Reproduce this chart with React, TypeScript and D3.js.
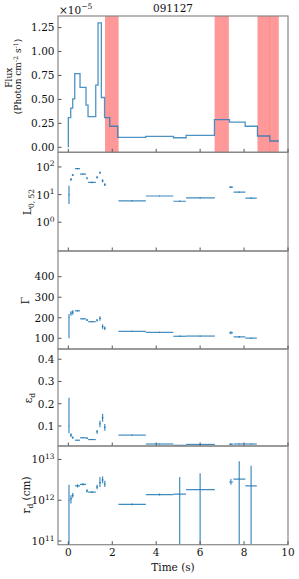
import React, { useRef, useEffect } from "react";
import * as d3 from "d3";

// flux light curve, step edges (s) and values (x1e-5 photon cm^-2 s^-1)
const fluxEdges = [
  0, 0.109, 0.2, 0.292, 0.533, 0.806, 0.897, 1.248, 1.353, 1.503, 1.649, 1.886,
  2.251, 3.526, 4.784, 5.362, 6.652, 7.335, 8.05, 8.61, 9.175, 9.585,
];
const fluxValues = [
  0.31, 0.41, 0.506, 0.77, 0.625, 0.44, 0.32, 0.65, 1.3, 0.52, 0.31, 0.22,
  0.104, 0.115, 0.1, 0.125, 0.29, 0.264, 0.22, 0.118, 0.066,
];

// shaded intervals (s)
const bandStart = [1.67, 1.89, 6.66, 8.61, 9.17];
const bandEnd = [1.895, 2.29, 7.31, 9.18, 9.58];

// time bins of the fitted parameters
const tMid = [0.03, 0.12, 0.2, 0.42, 0.67, 0.85, 1.07, 1.31, 1.44, 1.56, 1.66, 2.89, 4.15, 5.07, 6.0, 7.4, 7.78, 8.32];
const tLo = [0.01, 0.08, 0.16, 0.3, 0.53, 0.81, 0.9, 1.27, 1.4, 1.52, 1.62, 2.28, 3.53, 4.78, 5.36, 7.32, 7.52, 8.06];
const tHi = [0.05, 0.16, 0.24, 0.53, 0.81, 0.89, 1.25, 1.35, 1.48, 1.6, 1.7, 3.53, 4.78, 5.36, 6.67, 7.5, 8.06, 8.58];

// L_{0,52}
const lumVal = [10, 35.5, 51, 87, 55, 39, 27.5, 41.7, 61.7, 31.6, 23, 5.9, 8.9, 5.75, 7.6, 18.6, 12.3, 7.4];
const lumLo = [4.6, 32, 47, 83, 52, 36, 26, 38, 56, 28, 20.5, 5.6, 8.5, 5.4, 7.2, 17.3, 11.6, 7.0];
const lumHi = [21, 39, 56, 91, 58, 42, 29, 46, 68, 36, 26, 6.2, 9.3, 6.1, 8.0, 20, 13, 7.8];

// Gamma
const gamVal = [200, 222, 227, 234, 195, 189, 181, 188, 197, 157, 149, 134, 129, 110, 111, 127, 107, 101];
const gamLo = [100, 210, 215, 230, 192, 184, 178, 182, 186, 146, 140, 131, 126, 106, 108, 120, 103, 98];
const gamHi = [218, 232, 237, 238, 198, 194, 184, 194, 208, 168, 158, 137, 132, 114, 114, 134, 111, 104];

// epsilon_d
const epsVal = [0.1, 0.059, 0.048, 0.036, 0.047, 0.045, 0.039, 0.074, 0.11, 0.137, 0.094, 0.059, 0.019, 0.013, 0.017, 0.018, 0.019, 0.019];
const epsLo = [0.067, 0.051, 0.043, 0.034, 0.045, 0.042, 0.037, 0.065, 0.094, 0.119, 0.079, 0.056, 0.017, 0.011, 0.015, 0.015, 0.017, 0.017];
const epsHi = [0.227, 0.067, 0.053, 0.038, 0.049, 0.048, 0.041, 0.082, 0.124, 0.154, 0.109, 0.062, 0.021, 0.015, 0.019, 0.022, 0.021, 0.021];

// r_d (cm)
const rVal = [1e12, 1.1e12, 1.32e12, 2.24e12, 2.45e12, 1.7e12, 1.58e12, 2.1e12, 2.7e12, 3.16e12, 2.5e12, 7.9e11, 1.38e12, 1.41e12, 1.82e12, 2.8e12, 3.3e12, 2.24e12];
const rLo = [1e10, 8.3e11, 1.15e12, 2.05e12, 2.3e12, 1.55e12, 1.5e12, 1.85e12, 2.1e12, 2.6e12, 2.1e12, 7.5e11, 1.3e12, 1e10, 1e10, 2.4e12, 1e10, 1e10];
const rHi = [2.4e12, 1.32e12, 1.5e12, 2.45e12, 2.6e12, 1.85e12, 1.67e12, 2.4e12, 3.7e12, 3.8e12, 3.0e12, 8.3e11, 1.46e12, 3.7e12, 4.6e12, 3.3e12, 9e12, 7e12];

const xTicks = [0, 2, 4, 6, 8, 10];

const App: React.FC = () => {
  const ref = useRef<SVGSVGElement>(null);

  useEffect(() => {
    const svg = d3.select(ref.current);
    svg.selectAll("*").remove();
    const font = "DejaVu Serif";
    const blue = "#1f77b4";
    const left = 58,
      right = 288;
    const tops = [16, 152.3, 251, 349, 446];
    const bottoms = [152.3, 251, 349, 446, 544.7];

    const x = d3.scaleLinear().domain([-0.47, 10]).range([left, right]);

    const yFlux = d3.scaleLinear().domain([-0.052, 1.371]).range([bottoms[0], tops[0]]);
    const yLum = d3.scaleLog().domain([Math.pow(10, -1.04), Math.pow(10, 2.53)]).range([bottoms[1], tops[1]]);
    const yGam = d3.scaleLinear().domain([48, 525]).range([bottoms[2], tops[2]]);
    const yEps = d3.scaleLinear().domain([0.01, 0.446]).range([bottoms[3], tops[3]]);
    const yR = d3.scaleLog().domain([Math.pow(10, 10.91), Math.pow(10, 13.33)]).range([bottoms[4], tops[4]]);

    // clip paths
    const defs = svg.append("defs");
    tops.forEach((t, i) => {
      defs
        .append("clipPath")
        .attr("id", `clip${i}`)
        .append("rect")
        .attr("x", left)
        .attr("y", t)
        .attr("width", right - left)
        .attr("height", bottoms[i] - t);
    });

    const supText = (
      g: d3.Selection<any, unknown, null, undefined>,
      tx: number,
      ty: number,
      base: string,
      sup: string,
      anchor: string
    ) => {
      const t = g
        .append("text")
        .attr("x", tx)
        .attr("y", ty)
        .attr("text-anchor", anchor)
        .attr("font-family", font)
        .attr("font-size", 10.5)
        .attr("fill", "#111");
      t.append("tspan").text(base);
      t.append("tspan").attr("dy", -4.5).attr("font-size", 7.5).text(sup);
      return t;
    };

    // ---- panel 1: flux ----
    const g1 = svg.append("g").attr("clip-path", "url(#clip0)");
    bandStart.forEach((b, i) => {
      g1.append("rect")
        .attr("x", x(b))
        .attr("y", tops[0])
        .attr("width", x(bandEnd[i]) - x(b))
        .attr("height", bottoms[0] - tops[0])
        .attr("fill", "red")
        .attr("fill-opacity", 0.4);
    });
    const stepPts: [number, number][] = [[fluxEdges[0], 0]];
    fluxValues.forEach((v, i) => {
      stepPts.push([fluxEdges[i], v]);
      stepPts.push([fluxEdges[i + 1], v]);
    });
    const line = d3
      .line<[number, number]>()
      .x((d) => x(d[0]))
      .y((d) => yFlux(d[1]));
    g1.append("path")
      .attr("d", line(stepPts) || "")
      .attr("fill", "none")
      .attr("stroke", blue)
      .attr("stroke-opacity", 0.8)
      .attr("stroke-width", 1.3);

    // ---- error bar panels ----
    const errPanel = (
      idx: number,
      y: d3.ScaleContinuousNumeric<number, number>,
      val: number[],
      lo: number[],
      hi: number[]
    ) => {
      const g = svg.append("g").attr("clip-path", `url(#clip${idx})`);
      val.forEach((v, i) => {
        g.append("line")
          .attr("x1", x(tLo[i]))
          .attr("x2", x(tHi[i]))
          .attr("y1", y(v))
          .attr("y2", y(v))
          .attr("stroke", blue)
          .attr("stroke-opacity", 0.85)
          .attr("stroke-width", 1.2);
        g.append("line")
          .attr("x1", x(tMid[i]))
          .attr("x2", x(tMid[i]))
          .attr("y1", y(lo[i]))
          .attr("y2", y(hi[i]))
          .attr("stroke", blue)
          .attr("stroke-opacity", 0.85)
          .attr("stroke-width", 1.2);
      });
    };
    errPanel(1, yLum, lumVal, lumLo, lumHi);
    errPanel(2, yGam, gamVal, gamLo, gamHi);
    errPanel(3, yEps, epsVal, epsLo, epsHi);
    errPanel(4, yR, rVal, rLo, rHi);

    // ---- axes frames and ticks ----
    const axes = svg.append("g");
    tops.forEach((t, i) => {
      axes
        .append("rect")
        .attr("x", left)
        .attr("y", t)
        .attr("width", right - left)
        .attr("height", bottoms[i] - t)
        .attr("fill", "none")
        .attr("stroke", "#888")
        .attr("stroke-width", 1.2);
      xTicks.forEach((xt) => {
        axes
          .append("line")
          .attr("x1", x(xt))
          .attr("x2", x(xt))
          .attr("y1", bottoms[i])
          .attr("y2", bottoms[i] - 3.5)
          .attr("stroke", "#555")
          .attr("stroke-width", 1);
      });
    });

    const yTick = (yy: number, label: string | null, sup?: string) => {
      axes
        .append("line")
        .attr("x1", left)
        .attr("x2", left + 3.5)
        .attr("y1", yy)
        .attr("y2", yy)
        .attr("stroke", "#555")
        .attr("stroke-width", 1);
      if (sup !== undefined) {
        supText(axes, 54.5, yy + 4, label || "", sup, "end");
      } else if (label) {
        axes
          .append("text")
          .attr("x", 54.5)
          .attr("y", yy + 3.8)
          .attr("text-anchor", "end")
          .attr("font-family", font)
          .attr("font-size", 10.5)
          .attr("fill", "#111")
          .text(label);
      }
    };

    [0, 0.25, 0.5, 0.75, 1.0, 1.25].forEach((v) => yTick(yFlux(v), d3.format(".2f")(v)));
    [1, 10, 100].forEach((v) => yTick(yLum(v), "10", String(Math.round(Math.log10(v)))));
    [100, 200, 300, 400].forEach((v) => yTick(yGam(v), String(v)));
    [0.1, 0.2, 0.3, 0.4].forEach((v) => yTick(yEps(v), String(v)));
    [1e11, 1e12, 1e13].forEach((v) => yTick(yR(v), "10", String(Math.round(Math.log10(v)))));

    // x tick labels on bottom panel
    xTicks.forEach((xt) => {
      axes
        .append("text")
        .attr("x", x(xt))
        .attr("y", 556)
        .attr("text-anchor", "middle")
        .attr("font-family", font)
        .attr("font-size", 10.5)
        .attr("fill", "#111")
        .text(String(xt));
    });
    axes
      .append("text")
      .attr("x", (left + right) / 2)
      .attr("y", 571)
      .attr("text-anchor", "middle")
      .attr("font-family", font)
      .attr("font-size", 10.5)
      .attr("fill", "#111")
      .text("Time (s)");

    // title and offset text
    axes
      .append("text")
      .attr("x", (left + right) / 2)
      .attr("y", 11.7)
      .attr("text-anchor", "middle")
      .attr("font-family", font)
      .attr("font-size", 10.5)
      .attr("fill", "#111")
      .text("091127");
    supText(axes, left + 1, 13.5, "×10", "−5", "start");

    // y labels
    const ylab = (tx: number, ty: number, size: number) =>
      axes
        .append("text")
        .attr("transform", `translate(${tx},${ty}) rotate(-90)`)
        .attr("text-anchor", "middle")
        .attr("font-family", font)
        .attr("font-size", size)
        .attr("fill", "#111");

    ylab(12.3, 77.7, 9).text("Flux");
    const ph = ylab(21, 76.5, 9);
    ph.append("tspan").text("(Photon cm");
    ph.append("tspan").attr("dy", -3.5).attr("font-size", 6.3).text("-2");
    ph.append("tspan").attr("dy", 3.5).text(" s");
    ph.append("tspan").attr("dy", -3.5).attr("font-size", 6.3).text("-1");
    ph.append("tspan").attr("dy", 3.5).text(")");

    const lum = ylab(31, 202, 10.5);
    lum.append("tspan").text("L");
    lum.append("tspan").attr("dy", 3).attr("font-size", 7.5).text("0, 52");

    ylab(29.3, 300.5, 10.5).text("Γ");

    const eps = ylab(32, 398, 10.5);
    eps.append("tspan").text("ε");
    eps.append("tspan").attr("dy", 3).attr("font-size", 7.5).text("d");

    const rd = ylab(30, 495, 10.5);
    rd.append("tspan").text("r");
    rd.append("tspan").attr("dy", 3).attr("font-size", 7.5).text("d");
    rd.append("tspan").attr("dy", -3).text(" (cm)");
  }, []);

  return (
    <svg
      ref={ref}
      width={299}
      height={579}
      style={{ position: "absolute", left: 0, top: 0, background: "#fff" }}
    ></svg>
  );
};

export default App;
